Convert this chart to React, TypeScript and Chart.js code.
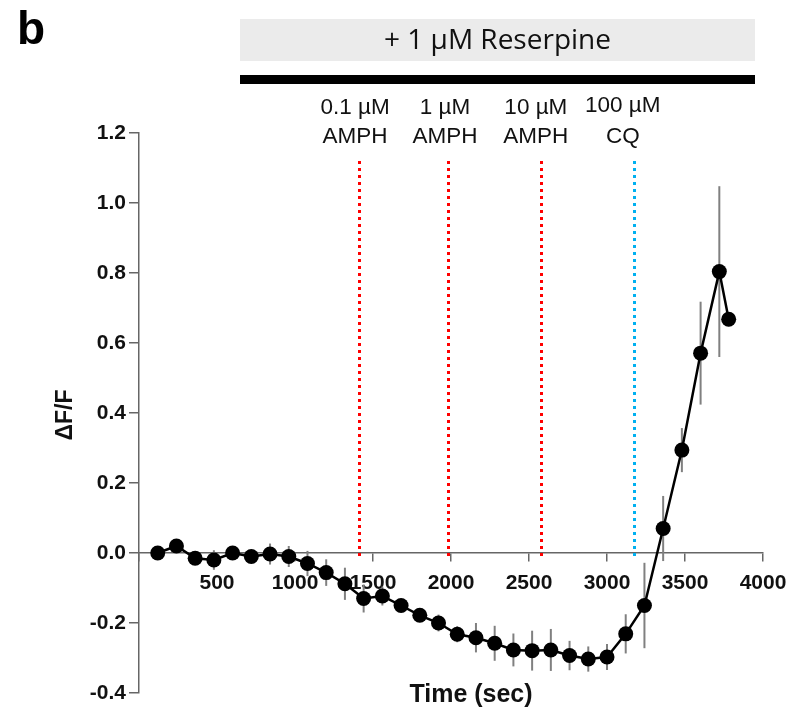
import React, { useEffect, useRef } from 'react';
import { Chart, registerables } from 'chart.js';

Chart.register(...registerables);

// ---- data ----
const timeSec = [
  120, 240, 360, 480, 600, 720, 840, 960, 1080, 1200, 1320, 1440, 1560, 1680, 1800, 1920,
  2040, 2160, 2280, 2400, 2520, 2640, 2760, 2880, 3000, 3120, 3240, 3360, 3480, 3600, 3720, 3780,
];
const deltaFF = [
  0.0, 0.02, -0.015, -0.02, 0.0, -0.01, -0.003, -0.01, -0.03, -0.056, -0.088, -0.13, -0.123, -0.15, -0.178, -0.2,
  -0.232, -0.242, -0.258, -0.277, -0.279, -0.277, -0.293, -0.303, -0.297, -0.231, -0.15, 0.07, 0.294, 0.571, 0.804, 0.668,
];
const semFF = [
  0.01, 0.01, 0.01, 0.028, 0.02, 0.012, 0.03, 0.03, 0.036, 0.038, 0.046, 0.04, 0.027, 0.014, 0.014, 0.024,
  0.023, 0.042, 0.05, 0.047, 0.057, 0.06, 0.042, 0.036, 0.037, 0.056, 0.122, 0.093, 0.063, 0.147, 0.244, 0.02,
];

const markerTimes = [1410, 1980, 2578, 3175];
const markerColors = ['#FF0000', '#FF0000', '#FF0000', '#00B0F0'];
const markerTopValue = 1.12;
const markerLabelTimes = [1385, 1961, 2544, 3101];
const markerLabelLine1 = ['0.1 µM', '1 µM', '10 µM', '100 µM'];
const markerLabelLine2 = ['AMPH', 'AMPH', 'AMPH', 'CQ'];

const xMin = 0;
const xMax = 4000;
const xStep = 500;
const yMin = -0.4;
const yMax = 1.2;
const yStep = 0.2;

const panelLetter = 'b';
const treatmentText = '+ 1 µM Reserpine';
const yTitle = 'ΔF/F';
const xTitle = 'Time (sec)';

const SANS = '"Liberation Sans", Arial, sans-serif';

const overlayPlugin = {
  id: 'overlay',
  beforeDatasetsDraw(chart: any) {
    const { ctx, scales } = chart;
    const x = scales.x;
    const y = scales.y;
    ctx.save();
    // dotted treatment markers
    markerTimes.forEach((t, i) => {
      const px = Math.round(x.getPixelForValue(t)) + 0.5;
      ctx.strokeStyle = markerColors[i];
      ctx.lineWidth = 3;
      ctx.lineCap = 'butt';
      ctx.setLineDash([3, 4]);
      ctx.beginPath();
      ctx.moveTo(px, y.getPixelForValue(markerTopValue));
      ctx.lineTo(px, y.getPixelForValue(-0.01));
      ctx.stroke();
    });
    ctx.setLineDash([]);
    // error bars
    ctx.strokeStyle = '#808080';
    ctx.lineWidth = 2;
    timeSec.forEach((t, i) => {
      const px = x.getPixelForValue(t);
      ctx.beginPath();
      ctx.moveTo(px, y.getPixelForValue(deltaFF[i] - semFF[i]));
      ctx.lineTo(px, y.getPixelForValue(deltaFF[i] + semFF[i]));
      ctx.stroke();
    });
    ctx.restore();
  },
  afterDraw(chart: any) {
    const { ctx, chartArea } = chart;
    const x = chart.scales.x;
    ctx.save();
    // panel letter
    ctx.fillStyle = '#000';
    ctx.font = `bold 46px ${SANS}`;
    ctx.textAlign = 'left';
    ctx.textBaseline = 'alphabetic';
    ctx.fillText(panelLetter, 17, 44);

    // treatment box
    const boxL = 240;
    const boxR = 755;
    ctx.fillStyle = '#EBEBEB';
    ctx.fillRect(boxL, 19, boxR - boxL, 42);
    ctx.fillStyle = '#000';
    ctx.fillRect(boxL, 75, boxR - boxL, 9);
    ctx.fillStyle = '#111';
    let fs = 26;
    ctx.font = `${fs}px "Open Sans", sans-serif`;
    const w = ctx.measureText(treatmentText).width;
    fs = (fs * 227) / w;
    ctx.font = `${fs.toFixed(1)}px "Open Sans", sans-serif`;
    ctx.textAlign = 'center';
    ctx.textBaseline = 'middle';
    ctx.fillText(treatmentText, (boxL + boxR) / 2, 41);

    // marker labels
    ctx.fillStyle = '#111';
    ctx.font = `22.5px ${SANS}`;
    ctx.textAlign = 'center';
    ctx.textBaseline = 'alphabetic';
    markerLabelTimes.forEach((t, i) => {
      const px = x.getPixelForValue(t);
      ctx.fillText(markerLabelLine1[i], px, i === 3 ? 112 : 114);
      ctx.fillText(markerLabelLine2[i], px, 143);
    });

    // axis titles
    ctx.fillStyle = '#111';
    ctx.font = `bold 25px ${SANS}`;
    ctx.textAlign = 'center';
    ctx.textBaseline = 'alphabetic';
    ctx.fillText(xTitle, 471, 702);

    ctx.save();
    ctx.translate(72, (chartArea.top + chartArea.bottom) / 2 + 2);
    ctx.rotate(-Math.PI / 2);
    ctx.font = `bold 23px ${SANS}`;
    ctx.textAlign = 'center';
    ctx.textBaseline = 'alphabetic';
    ctx.fillText(yTitle, 0, 0);
    ctx.restore();

    ctx.restore();
  },
};

export default function App() {
  const canvasRef = useRef<HTMLCanvasElement | null>(null);

  useEffect(() => {
    document.body.style.margin = '0';
    const canvas = canvasRef.current;
    if (!canvas) return;
    Chart.defaults.font.family = SANS;

    const chart = new Chart(canvas, {
      type: 'line',
      data: {
        datasets: [
          {
            data: timeSec.map((t, i) => ({ x: t, y: deltaFF[i] })),
            borderColor: '#000',
            backgroundColor: '#000',
            borderWidth: 2.5,
            pointRadius: 7.5,
            pointBorderWidth: 0,
            pointBackgroundColor: '#000',
            tension: 0,
          },
        ],
      },
      options: {
        animation: false,
        responsive: false,
        maintainAspectRatio: false,
        layout: { padding: { left: 79, right: 40, top: 133, bottom: 16 } },
        plugins: {
          legend: { display: false },
          tooltip: { enabled: false },
          title: { display: false },
        },
        scales: {
          x: {
            type: 'linear',
            min: xMin,
            max: xMax,
            position: { y: 0 } as any,
            ticks: {
              stepSize: xStep,
              autoSkip: false,
              maxRotation: 0,
              padding: 10,
              color: '#111',
              font: { family: SANS, size: 21, weight: 'bold' },
              callback: (v: any) => (Number(v) === 0 ? '' : String(v)),
            },
            grid: {
              drawOnChartArea: false,
              drawTicks: true,
              tickLength: 8,
              color: '#666',
              lineWidth: 1.5,
            },
            border: { display: true, color: '#666', width: 1.5 },
          },
          y: {
            type: 'linear',
            min: yMin,
            max: yMax,
            afterFit: (scale: any) => {
              scale.width = 60;
            },
            ticks: {
              stepSize: yStep,
              padding: 3,
              color: '#111',
              font: { family: SANS, size: 21, weight: 'bold' },
              callback: (v: any) => Number(v).toFixed(1),
            },
            grid: {
              drawOnChartArea: false,
              drawTicks: true,
              tickLength: 10,
              color: '#666',
              lineWidth: 1.5,
            },
            border: { display: true, color: '#666', width: 1.5 },
          },
        },
      },
      plugins: [overlayPlugin],
    });

    return () => {
      chart.destroy();
    };
  }, []);

  return (
    <div style={{ width: 803, height: 709 }}>
      <canvas ref={canvasRef} width={803} height={709} style={{ display: 'block', width: 803, height: 709 }} />
    </div>
  );
}
